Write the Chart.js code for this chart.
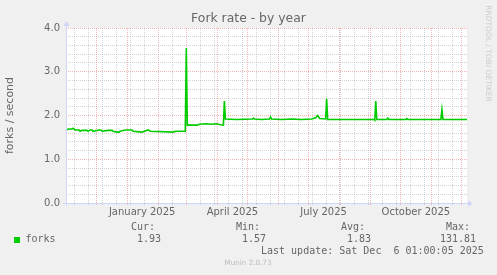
<!DOCTYPE html>
<html>
<head>
<meta charset="utf-8">
<script src="https://cdn.jsdelivr.net/npm/chart.js@4"></script>
<style>
  html, body { margin: 0; padding: 0; background: #f0f0f0; }
  canvas { display: block; }
</style>
</head>
<body>
<canvas id="forkChart" width="497" height="275"></canvas>
<script>
// data: day offset from 2024-11-01 and forks/second
const days = [
  0, 3, 6, 7, 9, 13, 14, 16, 21, 22, 24, 26, 27, 33, 35, 36, 42, 46, 47, 51,
  53, 54, 59, 66, 67, 76, 78, 82, 84, 107, 109, 119, 120, 121,
  131, 133, 140, 145, 150, 154, 157, 158, 159, 170, 186, 187, 188, 195, 203,
  204, 205, 215, 225, 235, 245, 249, 251, 253, 259, 260, 261,
  280, 295, 307, 308, 309, 310, 320, 321, 322, 339, 340, 341, 360, 374, 375,
  376, 400
];
const forks = [
  1.67, 1.69, 1.69, 1.71, 1.67, 1.67, 1.64, 1.66, 1.66, 1.64, 1.67, 1.67, 1.64,
  1.67, 1.67, 1.64, 1.66, 1.66, 1.64, 1.62, 1.62, 1.64, 1.67, 1.67, 1.64, 1.62,
  1.64, 1.67, 1.64, 1.62, 1.64, 1.64, 3.54, 1.78,
  1.78, 1.80, 1.81, 1.80, 1.81, 1.79, 1.78, 2.33, 1.92, 1.91, 1.92, 1.94, 1.92,
  1.91, 1.92, 1.97, 1.92, 1.91, 1.92, 1.91, 1.92, 1.95, 2.00, 1.93, 1.92, 2.38,
  1.91,
  1.91, 1.91, 1.91, 1.89, 2.33, 1.91, 1.91, 1.94, 1.91, 1.91, 1.93, 1.91, 1.91,
  1.91, 2.13, 1.91, 1.91
];

// x axis labels
const xLabels = ['January 2025', 'April 2025', 'July 2025', 'October 2025'];
const xLabelDates = ['2025-01-16', '2025-04-16', '2025-07-16', '2025-10-16'];

// legend
const legendCols = ['Cur:', 'Min:', 'Avg:', 'Max:'];
const legendVals = ['1.93', '1.57', '1.83', '131.81'];
const lastUpdate = 'Last update: Sat Dec  6 01:00:05 2025';

const DAY = 86400000;
const start = Date.UTC(2024, 10, 1);
const toDay = (d) => (d - start) / DAY;

// month grid (red), two-week grid (grey), label positions
const monthDays = [];
for (let m = 1; m <= 13; m++) monthDays.push(toDay(Date.UTC(2024, 10 + m, 1)));
const labelDays = xLabelDates.map((s) => toDay(Date.parse(s + 'T00:00:00Z')));
const minorDays = [];
for (let d = 8; d < 400; d += 14) minorDays.push(d);

const tickKind = new Map();
labelDays.forEach((d) => tickKind.set(d, 'label'));
minorDays.forEach((d) => tickKind.set(d, 'minor'));
monthDays.forEach((d) => tickKind.set(d, 'major'));

const MAJOR = 'rgba(224, 80, 80, 0.42)';
const MINOR = 'rgba(140, 140, 140, 0.38)';
const AXIS = '#CFD6F8';
const FONT = '#666666';
const GREEN = '#00CC00';

Chart.defaults.font.family = "'DejaVu Sans', sans-serif";

// white canvas under the plot + axis arrows + munin texts
const muninDecor = {
  id: 'muninDecor',
  beforeDraw(chart) {
    const { ctx, chartArea: a } = chart;
    ctx.save();
    ctx.fillStyle = '#ffffff';
    ctx.fillRect(a.left, a.top, a.right - a.left, a.bottom - a.top);
    ctx.restore();
  },
  afterDraw(chart) {
    const { ctx, chartArea: a } = chart;
    ctx.save();
    // axes
    ctx.strokeStyle = AXIS;
    ctx.fillStyle = AXIS;
    ctx.lineWidth = 1;
    ctx.beginPath();
    ctx.moveTo(a.left - 3, a.bottom + 0.5);
    ctx.lineTo(a.right + 2, a.bottom + 0.5);
    ctx.moveTo(a.left + 0.5, a.bottom + 3);
    ctx.lineTo(a.left + 0.5, a.top - 3);
    ctx.stroke();
    ctx.beginPath();
    ctx.moveTo(a.right + 1, a.bottom - 2.5);
    ctx.lineTo(a.right + 6, a.bottom + 0.5);
    ctx.lineTo(a.right + 1, a.bottom + 3.5);
    ctx.closePath();
    ctx.fill();
    ctx.beginPath();
    ctx.moveTo(a.left - 2.5, a.top - 2);
    ctx.lineTo(a.left + 0.5, a.top - 7);
    ctx.lineTo(a.left + 3.5, a.top - 2);
    ctx.closePath();
    ctx.fill();

    // title
    ctx.fillStyle = FONT;
    ctx.font = "12.4px 'DejaVu Sans'";
    ctx.textAlign = 'center';
    ctx.textBaseline = 'middle';
    ctx.fillText('Fork rate - by year', 248.5, 19);

    // legend
    ctx.font = "10px 'DejaVu Sans Mono'";
    ctx.textAlign = 'left';
    const colX = [131, 236, 341, 446];
    const valX = [137, 242, 347, 440];
    legendCols.forEach((t, i) => ctx.fillText(t, colX[i], 227.5));
    legendVals.forEach((t, i) => ctx.fillText(t, valX[i], 239.5));
    ctx.fillText('forks', 25.5, 239.5);
    ctx.fillText(lastUpdate, 261, 251.5);
    ctx.fillStyle = GREEN;
    ctx.fillRect(14, 237, 6, 6);

    // watermarks
    ctx.fillStyle = '#bbbbbb';
    ctx.font = "7.2px 'DejaVu Sans'";
    ctx.textAlign = 'center';
    ctx.fillText('Munin 2.0.73', 248, 263.5);
    ctx.fillStyle = '#cccccc';
    ctx.font = "7.5px 'DejaVu Sans'";
    ctx.translate(488, 53.5);
    ctx.rotate(Math.PI / 2);
    ctx.fillText('RRDTOOL / TOBI OETIKER', 0, 0);
    ctx.restore();
  }
};

new Chart(document.getElementById('forkChart'), {
  type: 'line',
  plugins: [muninDecor],
  data: {
    datasets: [
      {
        label: 'forks',
        data: days.map((d, i) => ({ x: d, y: forks[i] })),
        borderColor: GREEN,
        borderWidth: 1.6,
        pointRadius: 0,
        tension: 0,
        fill: false,
      },
    ],
  },
  options: {
    responsive: false,
    animation: false,
    devicePixelRatio: 1,
    layout: { padding: { left: 0, top: 28, right: 30, bottom: 52 } },
    plugins: {
      legend: { display: false },
      tooltip: { enabled: false },
    },
    scales: {
      x: {
        type: 'linear',
        min: 0,
        max: 400,
        afterFit: (scale) => { scale.height = 20; },
        afterBuildTicks: (scale) => {
          scale.ticks = [...tickKind.keys()].sort((p, q) => p - q).map((v) => ({ value: v }));
        },
        ticks: {
          autoSkip: false,
          maxRotation: 0,
          padding: 1,
          color: FONT,
          font: { size: 10 },
          callback: (v) => {
            const i = labelDays.indexOf(v);
            return i >= 0 ? xLabels[i] : '';
          },
        },
        grid: {
          color: (c) => {
            const k = tickKind.get(c.tick && c.tick.value);
            return k === 'major' ? MAJOR : k === 'minor' ? MINOR : 'rgba(0,0,0,0)';
          },
          tickColor: (c) => {
            const k = tickKind.get(c.tick && c.tick.value);
            return k === 'major' ? MAJOR : k === 'minor' ? MINOR : 'rgba(0,0,0,0)';
          },
          tickLength: 2,
          lineWidth: 1,
        },
        border: { display: false, dash: [1, 1] },
      },
      y: {
        min: 0,
        max: 4,
        afterFit: (scale) => { scale.width = 66; },
        ticks: {
          stepSize: 0.2,
          autoSkip: false,
          padding: 6,
          color: FONT,
          font: { size: 10 },
          callback: (v) => (Math.abs(v - Math.round(v)) < 1e-6 ? v.toFixed(1) : ''),
        },
        title: {
          display: true,
          text: 'forks / second',
          color: FONT,
          font: { size: 11 },
          padding: { top: 4, bottom: 0 },
        },
        grid: {
          color: (c) => {
            const v = c.tick ? c.tick.value : 0;
            return Math.abs(v - Math.round(v)) < 1e-6 ? MAJOR : MINOR;
          },
          drawTicks: false,
          lineWidth: 1,
        },
        border: { display: false, dash: [1, 1] },
      },
    },
  },
});
</script>
</body>
</html>
